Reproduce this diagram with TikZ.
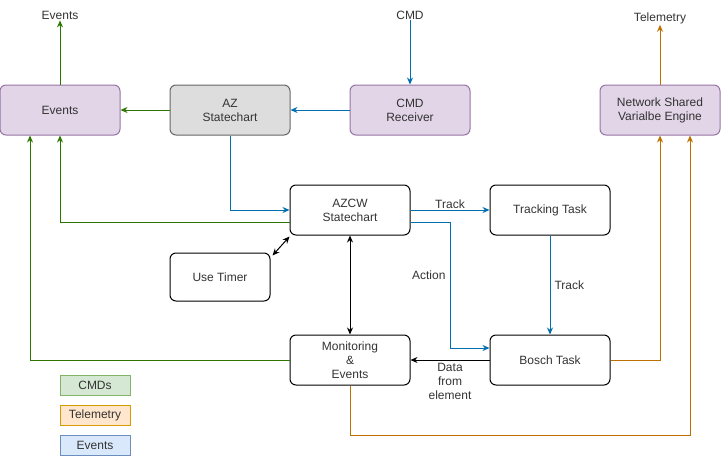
\documentclass[tikz,border=0pt]{standalone}
\usepackage{fontspec}
\setmainfont{Liberation Sans}
\usetikzlibrary{positioning,arrows.meta}
\definecolor{evgreen}{HTML}{2D7600}
\definecolor{lgreen}{HTML}{82B366}
\definecolor{cmdblue}{HTML}{006EAF}
\definecolor{tmorange}{HTML}{BD7000}
\definecolor{purfill}{HTML}{E1D5E7}
\definecolor{purline}{HTML}{9673A6}
\definecolor{greyfill}{HTML}{DDDDDD}
\definecolor{greyline}{HTML}{666666}
\definecolor{txtgrey}{HTML}{333333}
\definecolor{keygreen}{HTML}{D5E8D4}
\definecolor{keyorange}{HTML}{FFE6CC}
\definecolor{keyorline}{HTML}{D79B00}
\definecolor{keyblue}{HTML}{DAE8FC}
\definecolor{keyblline}{HTML}{6C8EBF}

\begin{document}
\begin{tikzpicture}[x=1pt,y=-1pt,
    font=\fontsize{12}{14}\selectfont,
    box/.style={draw, line width=1pt, rounded corners=6pt, minimum width=120pt, minimum height=50pt, align=center, inner sep=0pt, text=txtgrey},
    purbox/.style={box, fill=purfill, draw=purline},
    keybox/.style={draw, line width=1pt, minimum width=70pt, minimum height=20pt, inner sep=0pt, text=txtgrey},
    lbl/.style={inner sep=1pt, align=center, text=txtgrey},
    arr/.style={line width=1pt, -{Stealth[length=7pt,width=6pt]}},
    twoway/.style={line width=1pt, {Stealth[length=7pt,width=6pt]}-{Stealth[length=7pt,width=6pt]}}]
  \useasboundingbox (0,0) rectangle (721,456);
  \node[purbox] (events) at (60,110) {Events};
  \node[box, fill=greyfill, draw=greyline] (az) at (230,110) {AZ\\Statechart};
  \node[purbox] (cmdrx) at (410,110) {CMD\\Receiver};
  \node[purbox] (nsve) at (660,110) {Network Shared\\Varialbe Engine};
  \node[box] (azcw) at (350,210) {AZCW\\Statechart};
  \node[box] (track) at (550,210) {Tracking Task};
  \node[box, minimum width=100pt, minimum height=48pt] (timer) at (220,277) {Use Timer};
  \node[box] (monitor) at (350,360) {Monitoring\\\&\\Events};
  \node[box] (bosch) at (550,360) {Bosch Task};
  \node[lbl] (evout) at (60,15) {Events};
  \node[lbl] (cmdin) at (410,15) {CMD};
  \node[lbl] (tmout) at (660,18) {Telemetry};
  \node[keybox, fill=keygreen, draw=lgreen] (keycmd) at (95,385) {CMDs};
  \node[keybox, fill=keyorange, draw=keyorline] (keytm) at (95,415) {Telemetry};
  \node[keybox, fill=keyblue, draw=keyblline] (keyev) at (95,445) {Events};
  % events
  \draw[arr, evgreen] (events) -- (evout);
  \draw[arr, evgreen] (az) -- (events);
  \draw[arr, evgreen] ([yshift=-12pt]azcw.west) -| (events.south);
  \draw[arr, evgreen] (monitor.west) -| ([xshift=-30pt]events.south);
  % commands
  \draw[arr, cmdblue] (cmdin) -- (cmdrx);
  \draw[arr, cmdblue] (cmdrx) -- (az);
  \draw[arr, cmdblue] (az.south) |- (azcw.west);
  \draw[arr, cmdblue] (azcw) -- node[lbl, above] {Track} (track);
  \draw[arr, cmdblue] ([yshift=-12pt]azcw.east) -- (450,222) -- node[lbl, left=3pt, pos=0.42] {Action} (450,348) -- ([yshift=12pt]bosch.west);
  \draw[arr, cmdblue] (track) -- node[lbl, right=3pt] {Track} (bosch);
  \draw[arr, black] (bosch) -- node[lbl, below=2pt] {Data\\from\\element} (monitor);
  \draw[twoway] (azcw) -- (monitor);
  \draw[twoway] ([shift={(2pt,-3pt)}]timer.north east) -- ([shift={(0pt,-1pt)}]azcw.south west);
  % telemetry
  \draw[arr, tmorange] (nsve) -- (tmout);
  \draw[arr, tmorange] (bosch.east) -| (nsve.south);
  \draw[arr, tmorange] (monitor.south) |- (690,435) -- ([xshift=30pt]nsve.south);
\end{tikzpicture}
\end{document}
